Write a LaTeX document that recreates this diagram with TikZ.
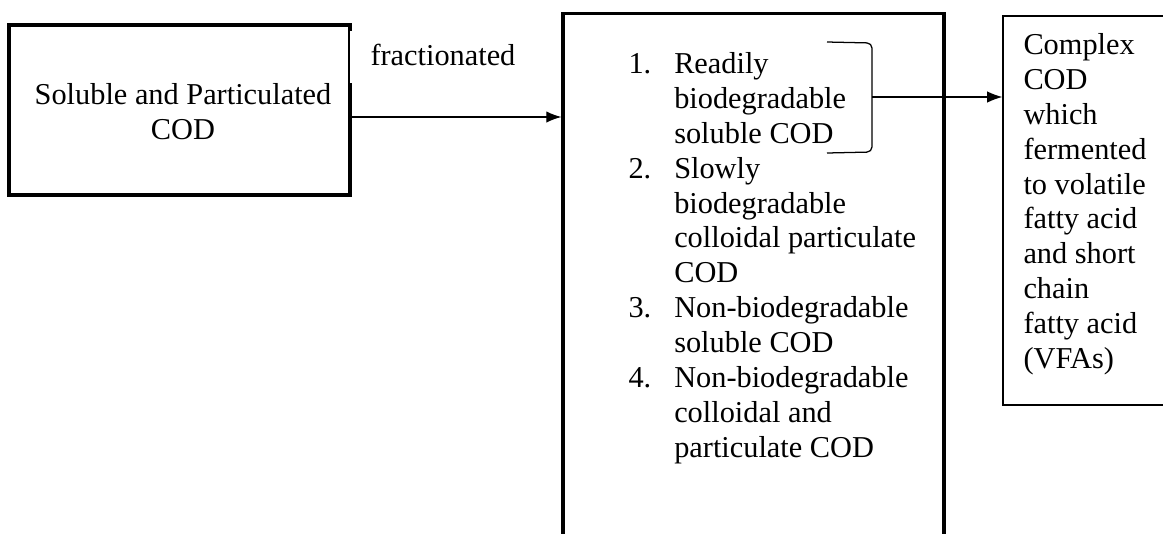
\documentclass[tikz,border=0pt]{standalone}
\usepackage{fontspec}
\setmainfont{Liberation Serif}
\usetikzlibrary{arrows.meta}
\tikzset{
	thickbox/.style={draw, line width=1.2pt, inner sep=0pt},
	thinbox/.style={draw, line width=0.5pt, inner sep=0pt},
	txt/.style={inner sep=0pt, font=\fontsize{12}{13.8}\selectfont},
	flow/.style={line width=0.5pt, -{Latex[length=6pt,width=4.5pt]}},
}
\begin{document}
\begin{tikzpicture}[x=0.0139cm, y=-0.0139cm]
				\useasboundingbox (0,0) rectangle (1163,533);
				\clip (0,0) rectangle (1163,533);
				%--
				\node[thickbox, minimum width=4.740cm, minimum height=2.363cm] (cod) at (179.5,110) {};
				\node[txt, anchor=north] (codtxt) at (183,79.5) {\begin{tabular}{@{}c@{}}Soluble and Particulated\\COD\end{tabular}};
				%--
				\fill[white] (349,31) rectangle (555,83);
				\draw[line width=0.5pt] (349,27) -- (349,83);
				\node[txt, anchor=base west] (frac) at (370,65) {fractionated};
				%--
				\node[thickbox, minimum width=5.296cm, minimum height=8.159cm] (fr) at (753.5,306.5) {};
				\node[txt, anchor=north west] (frtxt) at (628,48.5) {\begin{tabular}{@{}l@{\hspace{9.1pt}}l@{}}
					1. & Readily\\
					   & biodegradable\\
					   & soluble COD\\
					2. & Slowly\\
					   & biodegradable\\
					   & colloidal particulate\\
					   & COD\\
					3. & Non-biodegradable\\
					   & soluble COD\\
					4. & Non-biodegradable\\
					   & colloidal and\\
					   & particulate COD
				\end{tabular}};
				\draw[line width=0.5pt, rounded corners=2pt] (827,42) -- (872,43) -- (872,152) -- (827,153);
				\coordinate (br) at (872,97);
				%--
				\node[thinbox, minimum width=2.738cm, minimum height=5.407cm] (vfa) at (1101.5,210.5) {};
				\node[txt, anchor=north west] (vfatxt) at (1023,29.5) {\begin{tabular}{@{}l@{}}
					Complex\\
					COD\\
					which\\
					fermented\\
					to volatile\\
					fatty acid\\
					and short\\
					chain\\
					fatty acid\\
					(VFAs)
				\end{tabular}};
				%--
				\draw[flow] (cod.east |- 0,117) -- (fr.west |- 0,117);
				\draw[flow] (br) -- (vfa.west |- br);
\end{tikzpicture}
\end{document}
